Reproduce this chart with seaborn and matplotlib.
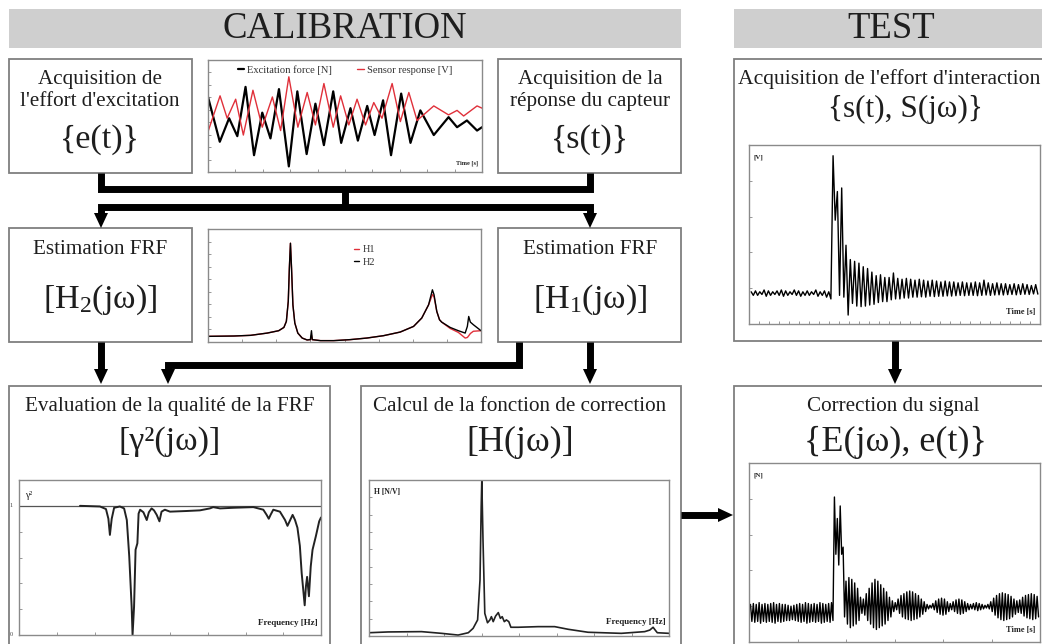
import numpy as np
import matplotlib
matplotlib.use('Agg')
import matplotlib.pyplot as plt
from matplotlib.patches import Rectangle, Polygon
import seaborn as sns

# ---------------- data ----------------
# calibration record: x in % of record, y as fraction of frame height
exc_t = [0, 4.3, 7.7, 10.7, 13.7, 16.8, 19.8, 22.8, 25.9, 29.5, 32.6, 36.0, 39.2, 42.3, 45.7,
         48.6, 52.0, 54.7, 58.1, 60.8, 63.9, 66.8, 70.5, 73.9, 77.5, 82.4, 87.8, 90.9, 94.5, 98.2, 100]
exc_v = [0.67, 0.27, 0.48, 0.32, 0.76, 0.15, 0.53, 0.30, 0.74, 0.05, 0.72, 0.16, 0.61, 0.24, 0.72,
         0.26, 0.57, 0.28, 0.59, 0.33, 0.64, 0.15, 0.70, 0.26, 0.55, 0.33, 0.49, 0.40, 0.46, 0.37, 0.40]
sens_t = [0, 4.4, 7.0, 10.1, 12.9, 16.4, 19.8, 23.5, 26.5, 29.5, 32.8, 36.2, 39.2, 42.3, 45.7,
          48.4, 51.4, 54.4, 57.5, 60.5, 63.5, 67.2, 70.2, 73.3, 76.3, 82.4, 87.8, 90.9, 93.3, 98.2, 100]
sens_v = [0.36, 0.68, 0.48, 0.65, 0.33, 0.73, 0.40, 0.67, 0.37, 0.85, 0.40, 0.71, 0.42, 0.79, 0.40,
          0.68, 0.42, 0.65, 0.42, 0.62, 0.48, 0.79, 0.45, 0.71, 0.46, 0.59, 0.51, 0.55, 0.50, 0.59, 0.57]

# FRF estimates H1 / H2
frf_f = [0, 9.5, 15.6, 21.7, 25.9, 27.8, 28.7, 29.4, 29.8, 30.2, 30.6, 31.1, 31.8, 32.9, 34.5,
         36.3, 37.5, 37.9, 38.2, 41.2, 46.0, 52.1, 58.2, 64.3, 70.4, 75.3, 78.3, 80.8, 82.2, 82.8,
         83.8, 84.8, 85.6, 88.7, 91.7, 94.2, 95.0, 95.5, 96.1, 97.2, 100]
h2 = [0.050, 0.053, 0.059, 0.079, 0.100, 0.129, 0.182, 0.359, 0.653, 0.874, 0.653, 0.329, 0.168, 0.079, 0.035,
      0.018, 0.021, 0.100, 0.021, 0.012, 0.012, 0.021, 0.035, 0.056, 0.088, 0.138, 0.212, 0.329, 0.462, 0.418,
      0.271, 0.197, 0.176, 0.129, 0.100, 0.079, 0.138, 0.226, 0.176, 0.153, 0.100]
h1 = [0.050, 0.053, 0.059, 0.079, 0.100, 0.129, 0.182, 0.359, 0.653, 0.874, 0.653, 0.329, 0.168, 0.079, 0.035,
      0.018, 0.021, 0.060, 0.021, 0.012, 0.012, 0.021, 0.035, 0.056, 0.088, 0.138, 0.212, 0.329, 0.420, 0.400,
      0.271, 0.197, 0.176, 0.120, 0.085, 0.035, 0.040, 0.055, 0.075, 0.095, 0.100]

# coherence gamma^2
coh_f = [20.2, 26.8, 28.8, 29.6, 30.1, 30.7, 31.5, 33.4, 34.8, 35.7, 36.5, 37.3, 37.6, 38.1, 38.6,
         39.2, 39.6, 40.1, 41.2, 42.3, 43.0, 43.9, 44.7, 45.6, 46.5, 47.2, 48.3, 50.0, 55.5, 59.9,
         63.2, 64.3, 66.6, 71.0, 77.6, 80.9, 82.0, 82.7, 83.3, 84.2, 86.4, 88.1, 88.9, 89.8, 90.6,
         91.4, 92.2, 93.0, 93.6, 94.2, 94.6, 95.0, 95.4, 96.0, 96.6, 97.2, 98.3, 99.4, 100]
coh = [1.0, 0.995, 0.975, 0.90, 0.775, 0.90, 0.985, 0.995, 0.98, 0.89, 0.61, 0.22, 0.0, 0.22, 0.66,
       0.71, 0.94, 0.97, 0.95, 0.89, 0.95, 0.98, 0.965, 0.93, 0.88, 0.955, 0.97, 0.955, 0.96, 0.965,
       0.98, 0.99, 0.98, 0.985, 0.99, 0.97, 0.93, 0.90, 0.93, 0.97, 0.955, 0.89, 0.845, 0.89, 0.93,
       0.89, 0.83, 0.69, 0.48, 0.33, 0.23, 0.375, 0.45, 0.30, 0.53, 0.66, 0.765, 0.88, 0.91]

# correction function H
hf_f = [0, 6.4, 17.5, 24.2, 29.7, 33.1, 34.7, 36.2, 37.0, 37.4, 37.6, 38.0, 38.6, 39.5, 40.3,
        40.8, 41.4, 42.2, 43.1, 43.8, 44.4, 45.1, 45.8, 46.6, 47.3, 49.7, 56.4, 61.9, 66.4, 73.0,
        84.1, 91.9, 93.6, 94.7, 95.4, 96.1, 100]
hf = [0.021, 0.026, 0.028, 0.017, 0.006, 0.021, 0.049, 0.103, 0.359, 0.829, 1.0, 0.615, 0.145, 0.085, 0.103,
      0.124, 0.092, 0.128, 0.150, 0.113, 0.124, 0.092, 0.103, 0.092, 0.056, 0.056, 0.060, 0.060, 0.043, 0.024,
      0.017, 0.028, 0.038, 0.056, 0.038, 0.021, 0.017]

# test: measured sensor signal s(t), one peak and one trough per cycle
s_pre_pk = [0.18, 0.185, 0.18, 0.19, 0.185, 0.18, 0.185, 0.19, 0.185, 0.18, 0.19, 0.185, 0.18, 0.185,
            0.18, 0.19, 0.18, 0.185, 0.18]
s_pre_tr = [0.16, 0.16, 0.165, 0.155, 0.16, 0.165, 0.16, 0.155, 0.16, 0.165, 0.16, 0.155, 0.16, 0.16,
            0.165, 0.155, 0.16, 0.15, 0.14]
s_hit_pk = [0.94, 0.74, 0.76]
s_hit_tr = [0.58, 0.16, 0.15]
s_post_pk = [0.44, 0.36, 0.35, 0.34, 0.32, 0.31, 0.29, 0.27, 0.275, 0.26, 0.26, 0.285, 0.255, 0.25, 0.255,
             0.25, 0.245, 0.25, 0.245, 0.24, 0.245, 0.24, 0.235, 0.24, 0.235, 0.235, 0.23, 0.235, 0.23, 0.23,
             0.235, 0.23, 0.245, 0.23, 0.225, 0.23, 0.225, 0.225, 0.22, 0.225, 0.22, 0.225, 0.22, 0.215, 0.22]
s_post_tr = [0.05, 0.115, 0.10, 0.097, 0.10, 0.106, 0.11, 0.12, 0.125, 0.125, 0.135, 0.14, 0.14, 0.145, 0.145,
             0.15, 0.15, 0.152, 0.15, 0.155, 0.153, 0.155, 0.155, 0.157, 0.156, 0.158, 0.16, 0.158, 0.16, 0.16,
             0.158, 0.16, 0.162, 0.16, 0.162, 0.163, 0.162, 0.164, 0.165, 0.163, 0.165, 0.166, 0.165, 0.168, 0.167]

# test: corrected force e(t)
e_pre_pk = [0.21, 0.215, 0.21, 0.22, 0.21, 0.215, 0.21, 0.215, 0.22, 0.21, 0.215, 0.21, 0.21, 0.205, 0.2,
            0.205, 0.21, 0.215, 0.21, 0.22, 0.215, 0.21, 0.215, 0.21, 0.22, 0.215, 0.21, 0.215, 0.22]
e_pre_tr = [0.115, 0.11, 0.115, 0.105, 0.115, 0.11, 0.115, 0.11, 0.105, 0.115, 0.11, 0.115, 0.12, 0.12, 0.125,
            0.12, 0.115, 0.11, 0.115, 0.105, 0.11, 0.115, 0.11, 0.115, 0.105, 0.11, 0.115, 0.11, 0.12]
e_hit_pk = [0.81, 0.69, 0.76, 0.53]
e_hit_tr = [0.49, 0.43, 0.49, 0.14]
e_post_pk = [0.34, 0.36, 0.35, 0.33, 0.30, 0.25, 0.24, 0.27, 0.30, 0.33,
             0.35, 0.34, 0.32, 0.30, 0.28, 0.25, 0.23, 0.22, 0.24, 0.26,
             0.27, 0.28, 0.285, 0.28, 0.27, 0.26, 0.24, 0.225, 0.21, 0.205,
             0.215, 0.23, 0.24, 0.245, 0.24, 0.225, 0.215, 0.225, 0.235, 0.24,
             0.235, 0.225, 0.215, 0.21, 0.215, 0.22, 0.215, 0.21, 0.205, 0.21,
             0.225, 0.245, 0.26, 0.27, 0.275, 0.27, 0.265, 0.255, 0.24, 0.23,
             0.235, 0.25, 0.26, 0.265, 0.27, 0.265, 0.255]
e_post_tr = [0.10, 0.08, 0.09, 0.10, 0.12, 0.16, 0.15, 0.12, 0.10, 0.08,
             0.07, 0.08, 0.09, 0.10, 0.12, 0.14, 0.17, 0.18, 0.16, 0.14,
             0.13, 0.125, 0.12, 0.125, 0.13, 0.14, 0.155, 0.17, 0.185, 0.19,
             0.18, 0.165, 0.155, 0.15, 0.155, 0.17, 0.18, 0.17, 0.16, 0.155,
             0.16, 0.17, 0.18, 0.185, 0.18, 0.175, 0.18, 0.185, 0.19, 0.185,
             0.17, 0.15, 0.135, 0.125, 0.12, 0.125, 0.13, 0.14, 0.155, 0.165,
             0.16, 0.145, 0.135, 0.13, 0.125, 0.13, 0.14]


def interleave(peaks, troughs):
    out = []
    for p, q in zip(peaks, troughs):
        out += [p, q]
    return out


s_sig = interleave(s_pre_pk + s_hit_pk + s_post_pk, s_pre_tr + s_hit_tr + s_post_tr)
e_sig = interleave(e_pre_pk + e_hit_pk + e_post_pk, e_pre_tr + e_hit_tr + e_post_tr)

# ---------------- figure ----------------
W, H = 1042, 644
sns.set_theme(style='white')
plt.rcParams['font.family'] = ['Liberation Serif', 'DejaVu Serif']
plt.rcParams['mathtext.fontset'] = 'custom'
plt.rcParams['mathtext.rm'] = 'Liberation Serif'

TXT = '#1e1e1e'
EDGE = '#7f7f7f'
T_SIZE = 15.2   # box titles
F_SIZE = 24.5   # formulas

fig = plt.figure(figsize=(W / 100, H / 100), dpi=100)
bg = fig.add_axes([0, 0, 1, 1])
bg.set_xlim(0, W)
bg.set_ylim(H, 0)
bg.axis('off')


def box(x0, y0, x1, y1, fill='white', edge=EDGE):
    bg.add_patch(Rectangle((x0, y0), x1 - x0, y1 - y0, facecolor=fill,
                           edgecolor=edge, lw=1.3))


def label(x, y, s, size, ha='center'):
    bg.text(x, y, s, fontsize=size, ha=ha, va='center', color=TXT)


def path(xs, ys):
    bg.plot(xs, ys, color='black', lw=5, solid_joinstyle='miter', solid_capstyle='butt')


def head(x, y, d='down'):
    if d == 'down':
        pts = [(x - 7, y - 15), (x + 7, y - 15), (x, y)]
    else:
        pts = [(x - 15, y - 7), (x - 15, y + 7), (x, y)]
    bg.add_patch(Polygon(pts, closed=True, color='black', lw=0))


# banners
box(9, 9, 681, 48, fill='#cfcfcf', edge='none')
box(734, 9, 1060, 48, fill='#cfcfcf', edge='none')
label(345, 29, 'CALIBRATION', 26.5)
label(891, 29, 'TEST', 26.5)

# boxes
box(9, 59, 192, 173)
label(100, 79, 'Acquisition de', T_SIZE)
label(100, 101, "l'effort d'excitation", T_SIZE)
label(100, 140, '{e(t)}', F_SIZE)

box(498, 59, 681, 173)
label(590, 79, 'Acquisition de la', T_SIZE)
label(590, 101, 'réponse du capteur', T_SIZE)
label(590, 140, '{s(t)}', F_SIZE)

box(9, 228, 192, 342)
label(100, 249, 'Estimation FRF', T_SIZE)
label(100, 300, r'[$\mathregular{H_2}$(jω)]', F_SIZE)

box(498, 228, 681, 342)
label(590, 249, 'Estimation FRF', T_SIZE)
label(590, 300, r'[$\mathregular{H_1}$(jω)]', F_SIZE)

box(734, 59, 1060, 341)
label(738, 79, "Acquisition de l'effort d'interaction", 15.6, ha='left')
label(905, 109, '{s(t), S(jω)}', 22.5)

box(9, 386, 330, 660)
label(170, 406, 'Evaluation de la qualité de la FRF', T_SIZE)
label(170, 442, '[γ²(jω)]', F_SIZE)

box(361, 386, 681, 660)
label(520, 406, 'Calcul de la fonction de correction', T_SIZE)
label(520, 442, '[H(jω)]', 26)

box(734, 386, 1060, 660)
label(893, 406, 'Correction du signal', T_SIZE)
label(895, 442, '{E(jω), e(t)}', 26)

# flow arrows
path([101, 101, 590, 590], [173, 189, 189, 173])
path([345, 345], [189, 207])
path([101, 101, 590, 590], [214, 207, 207, 214])
head(101, 228)
head(590, 228)
path([101, 101], [342, 370])
head(101, 384)
path([590, 590], [342, 370])
head(590, 384)
path([519, 519, 168, 168], [342, 365, 365, 370])
head(168, 384)
path([681, 719], [515, 515])
head(733, 515, 'right')
path([895, 895], [341, 370])
head(895, 384)


def inset(x0, y0, x1, y1, nx, ny, xlim=(0, 100), ylim=(0, 1)):
    ax = fig.add_axes([x0 / W, 1 - y1 / H, (x1 - x0) / W, (y1 - y0) / H])
    ax.set_facecolor('white')
    ax.set_xlim(*xlim)
    ax.set_ylim(*ylim)
    ax.set_xticks(np.linspace(xlim[0], xlim[1], nx))
    ax.set_yticks(np.linspace(ylim[0], ylim[1], ny))
    ax.set_xticklabels([])
    ax.set_yticklabels([])
    ax.tick_params(direction='in', length=2.5, width=0.6, color='#888888',
                   bottom=True, left=True)
    for sp in ax.spines.values():
        sp.set_color('#8a8a8a')
        sp.set_linewidth(1.0)
    return ax


def tag(ax, x, y, s, ha='left', size=5.5, bold=True):
    ax.text(x, y, s, transform=ax.transAxes, ha=ha, va='center', fontsize=size,
            fontweight='bold' if bold else 'normal', color='#222222')


def tidy(ax, xlim, ylim):
    ax.set_xlim(*xlim)
    ax.set_ylim(*ylim)
    ax.set_xlabel('')
    ax.set_ylabel('')


# calibration record
ax1 = inset(208, 60, 482, 172, 11, 10)
sns.lineplot(x=exc_t, y=exc_v, ax=ax1, color='black', lw=1.6, sort=False,
             estimator=None, label='Excitation force [N]')
sns.lineplot(x=sens_t, y=sens_v, ax=ax1, color='#e0303a', lw=1.0, sort=False,
             estimator=None, label='Sensor response [V]')
tidy(ax1, (0, 100), (0, 1))
ax1.legend(loc='upper center', ncol=2, frameon=False, fontsize=7.6, handlelength=0.6,
           handletextpad=0.3, columnspacing=2.4, borderaxespad=0.1, labelcolor='#333333')
tag(ax1, 0.985, 0.08, 'Time [s]', ha='right', size=4.5)

# FRF
ax2 = inset(208, 229, 481, 342, 9, 10)
sns.lineplot(x=frf_f, y=h1, ax=ax2, color='#e0303a', lw=1.0, sort=False,
             estimator=None, label='H1')
sns.lineplot(x=frf_f, y=h2, ax=ax2, color='black', lw=1.0, sort=False,
             estimator=None, label='H2')
tidy(ax2, (0, 100), (0, 1))
ax2.legend(loc='upper left', bbox_to_anchor=(0.5, 0.94), frameon=False, fontsize=7.4,
           handlelength=0.5, handletextpad=0.4, labelspacing=0.3, labelcolor='#333333')

# coherence
axe = inset(19, 480, 321, 635, 9, 7, ylim=(0, 1.2))
axe.axhline(1.0, color='#555555', lw=0.9)
sns.lineplot(x=coh_f, y=coh, ax=axe, color='#222222', lw=1.4, sort=False, estimator=None)
tidy(axe, (0, 100), (0, 1.2))
tag(axe, 0.02, 0.9, 'γ²', size=7, bold=False)
tag(axe, 0.99, 0.08, 'Frequency [Hz]', ha='right', size=6.5)
axe.text(-0.02, 1.0, '1', transform=axe.get_yaxis_transform(), ha='right', va='center',
         fontsize=4.5, color='#444444')
axe.text(-0.02, 0.0, '0', transform=axe.get_yaxis_transform(), ha='right', va='center',
         fontsize=4.5, color='#444444')

# correction function
axf = inset(369, 480, 669, 636, 9, 10)
sns.lineplot(x=hf_f, y=hf, ax=axf, color='#222222', lw=1.2, sort=False, estimator=None)
tidy(axf, (0, 100), (0, 1))
tag(axf, 0.015, 0.92, 'H [N/V]', size=5.5)
tag(axf, 0.99, 0.09, 'Frequency [Hz]', ha='right', size=6.5)

# test: sensor signal
n_s = len(s_sig)
ax3 = inset(749, 145, 1040, 324, 30, 6, xlim=(-1, n_s))
sns.lineplot(x=np.arange(n_s), y=s_sig, ax=ax3, color='black', lw=1.0, sort=False, estimator=None)
tidy(ax3, (-1, n_s), (0, 1))
tag(ax3, 0.015, 0.93, '[V]', size=5)
tag(ax3, 0.985, 0.065, 'Time [s]', ha='right', size=6)

# test: corrected force
n_e = len(e_sig)
ax4 = inset(749, 463, 1040, 642, 7, 6, xlim=(-1, n_e))
sns.lineplot(x=np.arange(n_e), y=e_sig, ax=ax4, color='black', lw=1.0, sort=False, estimator=None)
tidy(ax4, (-1, n_e), (0, 1))
tag(ax4, 0.015, 0.93, '[N]', size=5)
tag(ax4, 0.985, 0.065, 'Time [s]', ha='right', size=6)

fig.savefig('out.png', dpi=100)
